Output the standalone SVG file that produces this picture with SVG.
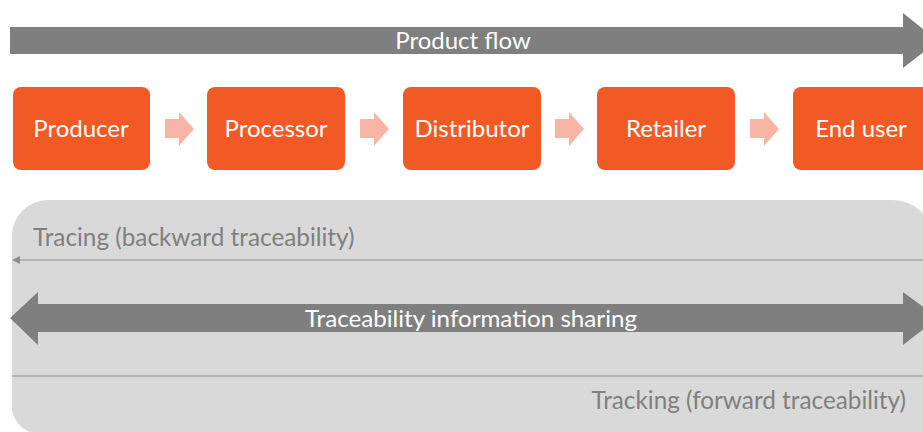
<svg xmlns="http://www.w3.org/2000/svg" width="923" height="432" viewBox="0 0 923 432">
  <style>
    .node rect { fill: #F15A24; }
    .node text { fill: #FFFFFF; font-family: Lato, "Open Sans", sans-serif; font-size: 24px; text-anchor: middle; }
    .step { fill: #F8B5A6; }
    .band { fill: #7F7F7F; }
    .band-label { fill: #FFFFFF; font-family: Lato, "Open Sans", sans-serif; font-size: 24px; text-anchor: middle; }
    .note { fill: #808080; font-family: Lato, "Open Sans", sans-serif; font-size: 24.3px; }
    .rule { stroke: #A6A6A6; stroke-width: 1.5; fill: none; }
  </style>
  <defs>
    <marker id="tip" viewBox="0 0 10 10" refX="0" refY="5" markerWidth="8" markerHeight="8" markerUnits="userSpaceOnUse" orient="auto-start-reverse">
      <path d="M0,0 L10,5 L0,10 z" fill="#8C8C8C"/>
    </marker>
  </defs>

  <rect width="923" height="432" fill="#FFFFFF"/>

  <!-- product flow band -->
  <g id="product-flow">
    <path class="band" d="M10,27 H903 V13 L938,41 L903,68 V54 H10 Z"/>
    <text class="band-label" x="463" y="49">Product flow</text>
  </g>

  <!-- supply chain stages -->
  <g id="producer" class="node">
    <rect x="13" y="87" width="137" height="83" rx="8"/>
    <text x="81" y="137">Producer</text>
  </g>
  <g id="processor" class="node">
    <rect x="207" y="87" width="138" height="83" rx="8"/>
    <text x="276" y="137">Processor</text>
  </g>
  <g id="distributor" class="node">
    <rect x="403" y="87" width="138" height="83" rx="8"/>
    <text x="472" y="137">Distributor</text>
  </g>
  <g id="retailer" class="node">
    <rect x="597" y="87" width="138" height="83" rx="8"/>
    <text x="666" y="137">Retailer</text>
  </g>
  <g id="end-user" class="node">
    <rect x="793" y="87" width="140" height="83" rx="8"/>
    <text x="861" y="137">End user</text>
  </g>

  <!-- step arrows between stages -->
  <g id="connectors">
    <path class="step" d="M165,119 H179 V112 L194,129 L179,146 V138 H165 Z"/>
    <path class="step" d="M360,119 H374 V112 L389,129 L374,146 V138 H360 Z"/>
    <path class="step" d="M555,119 H569 V112 L584,129 L569,146 V138 H555 Z"/>
    <path class="step" d="M750,119 H764 V112 L779,129 L764,146 V138 H750 Z"/>
  </g>

  <!-- traceability panel -->
  <g id="traceability">
    <path d="M12,236 A36,36 0 0 1 48,200 H893 A40,40 0 0 1 933,240 V432 H12 Z" fill="#D9D9D9"/>
    <path d="M12,400 V410 A30,30 0 0 0 30,432 H12 Z" fill="#FFFFFF"/>
    <text class="note" x="33" y="246">Tracing (backward traceability)</text>
    <line class="rule" x1="923" y1="260" x2="20" y2="260" marker-end="url(#tip)"/>
    <path class="band" d="M10,318 L38,292 V304 H903 V292 L938,318 L903,345 V332 H38 V345 Z"/>
    <text class="band-label" x="471" y="327" textLength="332" lengthAdjust="spacingAndGlyphs">Traceability information sharing</text>
    <line class="rule" x1="12" y1="376" x2="923" y2="376"/>
    <text class="note" x="906" y="409" text-anchor="end">Tracking (forward traceability)</text>
  </g>
</svg>
